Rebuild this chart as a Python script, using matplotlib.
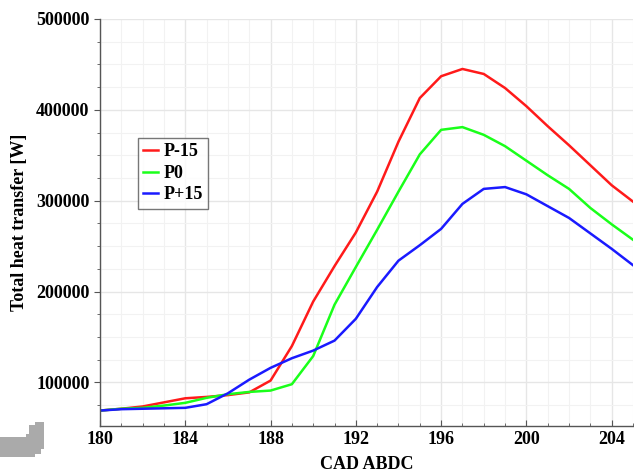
import numpy as np
import matplotlib
matplotlib.use("Agg")
import matplotlib.pyplot as plt
from matplotlib.ticker import MultipleLocator
from matplotlib.patches import Polygon

# crank angle (deg) and total heat transfer (W)
cad = list(range(180, 206))

p_minus15 = [69000, 71000, 73500, 78000, 82500, 84000, 86000, 89000, 102000, 140000,
             189000, 228000, 265000, 310000, 365000, 413000, 437000, 445000, 439500, 424000,
             404000, 382000, 361000, 339000, 317000, 299000]
p_zero = [69000, 71000, 72000, 74500, 77500, 83000, 87000, 89500, 91000, 98000,
          129000, 185500, 227000, 268000, 310000, 351000, 378000, 381000, 372500, 360000,
          344000, 328000, 313000, 292000, 274000, 257000]
p_plus15 = [69000, 70500, 71000, 71500, 72000, 76000, 88000, 103000, 116000, 126600,
            135000, 146000, 170000, 205000, 234000, 251000, 269000, 296500, 313000, 315000,
            307000, 294000, 281000, 264000, 247000, 229000]

series_names = ["P-15", "P0", "P+15"]
series_colors = ["#ff1a1a", "#1aff1a", "#1a1aff"]

plt.rcParams["font.family"] = ["Liberation Serif", "DejaVu Serif"]
plt.rcParams["font.weight"] = "bold"

W, H = 634, 472
fig = plt.figure(figsize=(W / 100, H / 100), dpi=100)
ax = fig.add_axes([100 / W, 1 - 426 / H, 533 / W, 407 / H])

for vals, name, col in zip([p_minus15, p_zero, p_plus15], series_names, series_colors):
    ax.plot(cad, vals, color=col, linewidth=1.8, label=name)

ax.set_xlim(180, 205)
ax.set_ylim(52000, 500000)
ax.xaxis.set_major_locator(MultipleLocator(4))
ax.xaxis.set_minor_locator(MultipleLocator(1))
ax.yaxis.set_major_locator(MultipleLocator(100000))
ax.yaxis.set_minor_locator(MultipleLocator(25000))

ax.grid(True, which="major", color="#e6e6e6", linewidth=1.0)
ax.grid(True, which="minor", color="#f2f2f2", linewidth=0.8)
ax.set_axisbelow(True)

for s in ["top", "right"]:
    ax.spines[s].set_visible(False)
for s in ["left", "bottom"]:
    ax.spines[s].set_color("#555555")
    ax.spines[s].set_linewidth(1.0)

ax.tick_params(axis="both", which="major", labelsize=13, length=4, color="#555555")
ax.tick_params(axis="both", which="minor", length=2.5, color="#555555")
ax.tick_params(axis="x", which="both", direction="in")
for lab in ax.get_xticklabels() + ax.get_yticklabels():
    lab.set_fontweight("bold")

ax.set_xlabel("CAD ABDC", fontsize=13, fontweight="bold", labelpad=6)
ax.set_ylabel("Total heat transfer [W]", fontsize=13, fontweight="bold", labelpad=6)

leg = ax.legend(loc="upper left", bbox_to_anchor=(0.0713, 0.7076), fontsize=13,
                frameon=True, fancybox=False, handlelength=0.8, handletextpad=0.3,
                borderpad=0.3, labelspacing=0.25, borderaxespad=0)
leg.get_frame().set_edgecolor("#555555")
leg.get_frame().set_linewidth(1.0)
for t in leg.get_texts():
    t.set_fontweight("bold")

# grey artifact in the lower-left corner of the original image (pixel outline)
art_px = np.array([(0, 437), (26, 437), (26, 434), (29, 434), (29, 425), (35, 425),
                   (35, 422), (44, 422), (44, 449), (41, 449), (41, 454), (35, 454),
                   (35, 457), (0, 457)], dtype=float)
art_px[:, 1] = H - art_px[:, 1]
art = Polygon(art_px / 100.0, closed=True, facecolor="#aaaaaa", edgecolor="none",
              transform=fig.dpi_scale_trans)
fig.patches.append(art)

fig.savefig("out.png", dpi=100)
